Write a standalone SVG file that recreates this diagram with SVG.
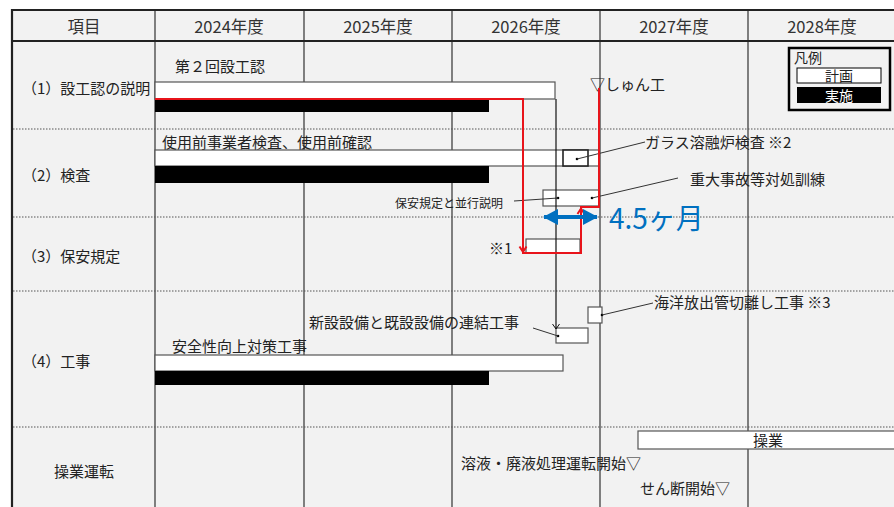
<svg xmlns="http://www.w3.org/2000/svg" width="894" height="507" viewBox="0 0 894 507">
<style>
text{font-family:"Noto Sans CJK JP","Noto Sans",sans-serif;fill:#222;font-size:15px}
text.hd{font-size:16.5px;fill:#333}
text.sm{font-size:12px}
text.lg{font-size:14px}
text.big{font-size:28px;fill:#0070c0}
.grid{stroke:#333;stroke-width:1.2;fill:none}
.dot{stroke:#555;stroke-width:1;stroke-dasharray:1.5 1.5;fill:none}
.plan{fill:#fff;stroke:#555;stroke-width:1.2}
.act{fill:#000}
.lead{stroke:#333;stroke-width:1;fill:none}
.red{stroke:#e8141b;stroke-width:2;fill:none}
.pt{fill:#000}
</style>
<defs>
<marker id="blueHead" viewBox="0 0 15 16" refX="14" refY="8" markerWidth="15" markerHeight="16" orient="auto-start-reverse" markerUnits="userSpaceOnUse">
<path d="M0,0 L15,8 L0,16 Z" fill="#0070c0"/>
</marker>
</defs>
<rect x="0" y="0" width="894" height="507" fill="#fff"/>
<g id="table">
<rect x="12" y="10" width="884" height="500" fill="#f2f2f2"/>
<path class="grid" d="M155,10V507M304,10V507M452,10V507M600,10V507M748,10V507"/>
<path d="M12,10H894M12,41H894" stroke="#222" stroke-width="1.8" fill="none"/>
<path d="M12,9V507" stroke="#222" stroke-width="2.2" fill="none"/>
<path class="dot" d="M13,129H894M13,217H894M13,291H894M13,427H894"/>
</g>
<g id="header">
<text class="hd" x="84" y="33" text-anchor="middle">項目</text>
<text class="hd" x="229" y="33" text-anchor="middle">2024年度</text>
<text class="hd" x="378" y="33" text-anchor="middle">2025年度</text>
<text class="hd" x="526" y="33" text-anchor="middle">2026年度</text>
<text class="hd" x="674" y="33" text-anchor="middle">2027年度</text>
<text class="hd" x="822" y="33" text-anchor="middle">2028年度</text>
</g>
<g id="legend">
<rect x="789" y="48" width="101" height="62" fill="#f2f2f2" stroke="#000" stroke-width="2.5"/>
<text class="lg" x="794" y="63">凡例</text>
<rect x="797" y="68" width="84" height="15" fill="#fff" stroke="#000" stroke-width="1"/>
<text class="lg" x="839" y="80.5" text-anchor="middle">計画</text>
<rect x="797" y="87" width="84" height="16" fill="#000"/>
<text class="lg" x="839" y="100.5" text-anchor="middle" style="fill:#fff">実施</text>
</g>
<g id="row1">
<text x="22" y="94">（1）設工認の説明</text>
<text x="175" y="72">第２回設工認</text>
<rect class="plan" x="155" y="82" width="400" height="17"/>
<rect class="act" x="155" y="99" width="334" height="13"/>
<text x="590" y="90">▽しゅん工</text>
</g>
<g id="row2">
<text x="22" y="181">（2）検査</text>
<text x="162" y="148">使用前事業者検査、使用前確認</text>
<rect class="plan" x="155" y="150" width="444" height="16"/>
<rect class="act" x="155" y="166" width="334" height="17"/>
<rect x="563" y="150" width="25" height="16" fill="#fff" stroke="#222" stroke-width="1.6"/>
<circle class="pt" cx="577" cy="159" r="1.3"/>
<text x="645" y="148">ガラス溶融炉検査 ※2</text>
<text x="690" y="185">重大事故等対処訓練</text>
<text class="sm" x="395" y="208">保安規定と並行説明</text>
<rect class="plan" x="543" y="190" width="56" height="16"/>
<circle class="pt" cx="558" cy="198" r="1.3"/>
<circle class="pt" cx="592" cy="198" r="1.3"/>
</g>
<g id="row3">
<text x="22" y="262">（3）保安規定</text>
<text x="489" y="254">※1</text>
<rect class="plan" x="526" y="239" width="54" height="14"/>
</g>
<g id="row4">
<text x="22" y="367">（4）工事</text>
<text x="309" y="328">新設設備と既設設備の連結工事</text>
<rect class="plan" x="556" y="328" width="32" height="15"/>
<circle class="pt" cx="558" cy="336" r="1.3"/>
<text x="654" y="308">海洋放出管切離し工事 ※3</text>
<rect class="plan" x="588" y="307" width="14" height="16"/>
<circle class="pt" cx="602" cy="315" r="1.3"/>
<text x="172" y="352">安全性向上対策工事</text>
<rect class="plan" x="155" y="355" width="408" height="16"/>
<rect class="act" x="155" y="371" width="334" height="14"/>
</g>
<g id="row5">
<text x="84" y="477" text-anchor="middle">操業運転</text>
<rect class="plan" x="638" y="431" width="260" height="18"/>
<text x="768" y="446" text-anchor="middle">操業</text>
<text x="461" y="469">溶液・廃液処理運転開始▽</text>
<text x="640" y="494">せん断開始▽</text>
</g>
<g id="connectors">
<path class="lead" d="M577,159L645,142"/>
<path class="lead" d="M592,198L678,178"/>
<path class="lead" d="M514,201L558,198"/>
<path class="lead" d="M533,328L558,336"/>
<path class="lead" d="M602,315L653,303"/>
<path d="M556,99V329" stroke="#111" stroke-width="1.2" fill="none"/>
<path d="M552.5,324L556,329L559.5,324" stroke="#111" stroke-width="1" fill="none"/>
<path class="red" d="M155,99H523V253H581V207H599V88"/>
<path class="red" stroke-width="1.5" d="M519.5,246.5L523,252L526.5,246.5"/>
<path class="red" stroke-width="1.5" d="M577.5,214L581,208.5L584.5,214"/>
<line x1="544" y1="217" x2="597" y2="217" stroke="#0070c0" stroke-width="4" marker-start="url(#blueHead)" marker-end="url(#blueHead)"/>
</g>
<g id="note">
<text class="big" x="609" y="229">4.5ヶ月</text>
</g>
</svg>
